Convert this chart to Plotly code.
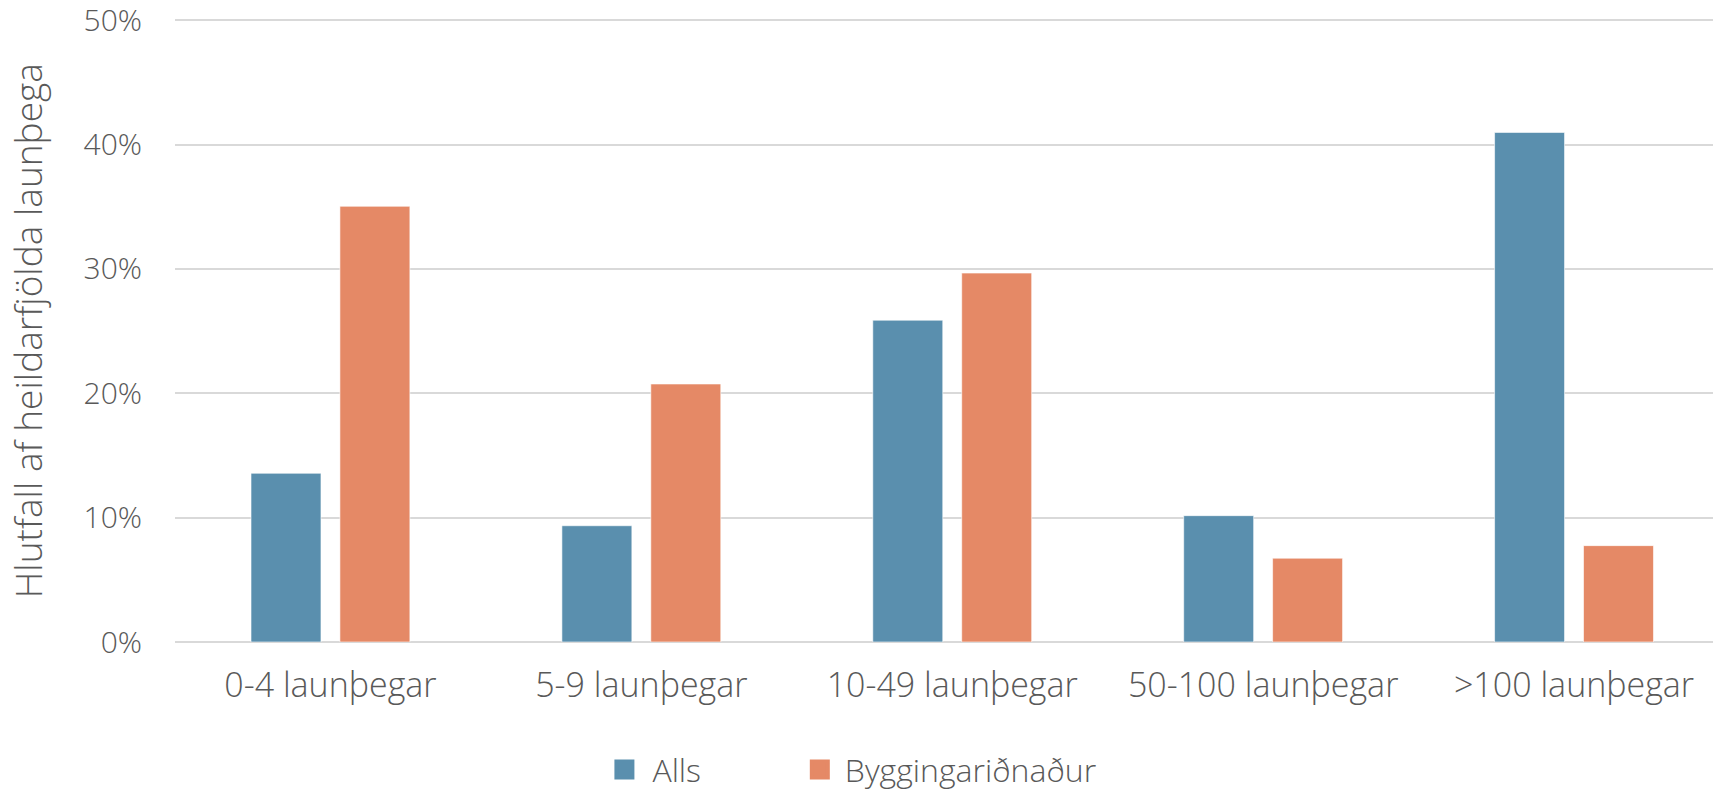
import plotly.graph_objects as go

# Share of employees by company size
categories = ["0-4 launþegar", "5-9 launþegar", "10-49 launþegar", "50-100 launþegar", ">100 launþegar"]
alls = [13.57, 9.35, 25.88, 10.16, 40.98]
byggingar = [35.04, 20.75, 29.67, 6.74, 7.75]
y_ticks = [0, 10, 20, 30, 40, 50]
y_tick_labels = ["0%", "10%", "20%", "30%", "40%", "50%"]

BLUE = "#5a8fae"
ORANGE = "#e58966"
TEXT = "#595959"
GRID = "#d9d9d9"
FONT = "Open Sans"

fig = go.Figure()
fig.add_trace(go.Bar(
    x=categories, y=alls, name="Alls",
    marker=dict(color=BLUE, line=dict(color="rgba(255,255,255,0.6)", width=1)),
    showlegend=False,
))
fig.add_trace(go.Bar(
    x=categories, y=byggingar, name="Byggingariðnaður",
    marker=dict(color=ORANGE, line=dict(color="rgba(255,255,255,0.6)", width=1)),
    showlegend=False,
))

# legend entries with larger square swatches, one legend per series
for name, color, leg in [("Alls", BLUE, "legend"), ("Byggingariðnaður", ORANGE, "legend2")]:
    fig.add_trace(go.Scatter(
        x=[None], y=[None], mode="markers", name=name, legend=leg,
        marker=dict(symbol="square", size=20, color=color, line=dict(color=color, width=4)),
    ))

legend_font = dict(size=32, family=FONT, color=TEXT, weight=300)
fig.update_layout(
    width=1713, height=791,
    margin=dict(l=175, r=0, t=19, b=149, autoexpand=False),
    paper_bgcolor="white", plot_bgcolor="white",
    barmode="group", bargap=0.428, bargroupgap=0.213,
    font=dict(family=FONT, color=TEXT, weight=300),
    showlegend=True,
    legend=dict(
        orientation="h", x=0.274, xanchor="left", y=-0.205, yanchor="middle",
        font=legend_font, itemwidth=46, bgcolor="rgba(0,0,0,0)",
    ),
    legend2=dict(
        orientation="h", x=0.403, xanchor="left", y=-0.205, yanchor="middle",
        font=legend_font, itemwidth=40, bgcolor="rgba(0,0,0,0)",
    ),
    xaxis=dict(
        range=[-0.5, 4.447], showgrid=False, showline=False, zeroline=False,
        tickfont=dict(size=34, family=FONT, color=TEXT, weight=300),
        ticks="", ticklabelstandoff=20,
    ),
    yaxis=dict(
        range=[0, 50.1], tickvals=y_ticks, ticktext=y_tick_labels,
        showgrid=True, gridcolor=GRID, gridwidth=1.5,
        zeroline=True, zerolinecolor=GRID, zerolinewidth=1.5,
        showline=False, ticks="", ticklabeloverflow="allow",
        tickfont=dict(size=30, family=FONT, color=TEXT, weight=300),
        ticklabelstandoff=32,
    ),
    annotations=[dict(
        text="Hlutfall af heildarfjölda launþega",
        xref="paper", yref="paper", x=-0.0957, y=0.5,
        xanchor="center", yanchor="middle", textangle=-90, showarrow=False,
        font=dict(size=37, family=FONT, color=TEXT, weight=300),
    )],
)

fig.write_html("out.html")
